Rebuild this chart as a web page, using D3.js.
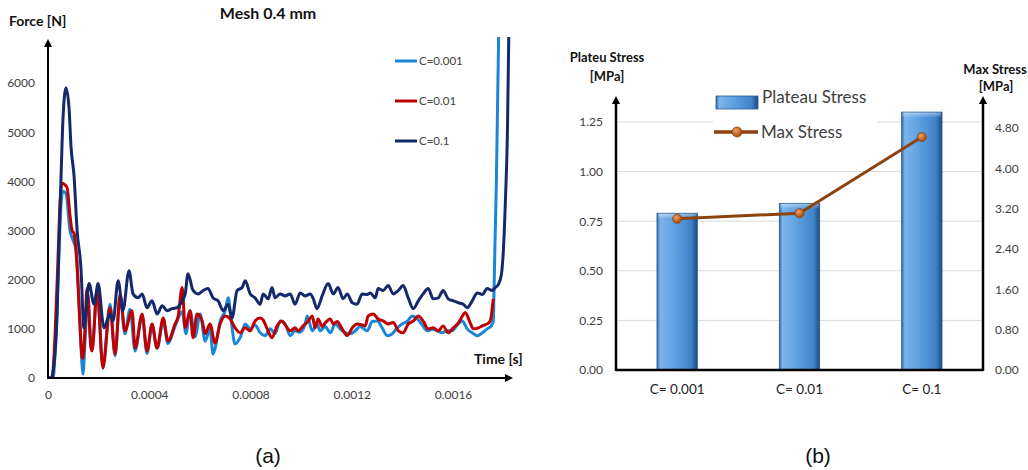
<!DOCTYPE html>
<html>
<head>
<meta charset="utf-8">
<script src="https://cdn.jsdelivr.net/npm/d3@7"></script>
<style>
  body { margin: 0; background: #fff; }
  svg text { font-family: Lato, "Open Sans", sans-serif; }
</style>
</head>
<body>
<svg id="chart" width="1028" height="470"></svg>
<script>
// ---- panel (a): force vs time, [time in microseconds, force in N]
const seriesNames = ["C=0.001", "C=0.01", "C=0.1"];
const seriesColors = ["#1a86d6", "#c00000", "#13296b"];

const forceC0001 = [
  [0,0],[20,0],[32,1000],[43,2500],[51,3500],[59,3800],[71,3750],[87,3000],[99,2800],[111,2600],
  [123,1500],[134,300],[138,80],[146,700],[158,1700],[170,650],[174,600],[194,1750],[217,250],[245,1500],
  [265,450],[285,1650],[304,900],[324,1400],[344,550],[372,1250],[391,500],[411,1050],[431,600],[455,1150],
  [474,700],[502,1050],[530,1350],[545,900],[561,1370],[581,840],[601,1300],[621,750],[640,1000],[652,490],
  [660,600],[680,1150],[700,1370],[712,1630],[723,1200],[739,690],[759,820],[779,1100],[799,1000],[818,1080],
  [838,920],[858,860],[878,1000],[897,900],[917,1160],[937,1100],[957,860],[976,960],[996,930],[1016,1100],
  [1024,1260],[1044,960],[1063,1100],[1075,960],[1095,1050],[1115,920],[1135,1100],[1154,1000],[1174,920],[1194,900],
  [1214,960],[1233,1050],[1261,960],[1281,1150],[1301,1160],[1320,1020],[1340,860],[1360,900],[1380,1020],[1399,1100],
  [1419,1150],[1439,1260],[1459,1200],[1478,1080],[1498,960],[1518,990],[1538,960],[1557,920],[1577,960],[1597,960],
  [1617,1080],[1637,1160],[1656,1000],[1676,920],[1696,860],[1716,920],[1735,1000],[1751,1060],[1759,1150],[1763,2000],
  [1767,3000],[1771,3900],[1775,5200],[1781,7200]
];

const forceC001 = [
  [0,0],[16,0],[28,900],[40,2500],[47,3500],[55,3960],[75,3880],[87,3300],[95,3000],[103,2940],
  [115,2250],[126,1100],[134,450],[138,400],[146,1000],[154,1820],[170,610],[174,550],[194,1800],[217,200],
  [245,1430],[265,490],[285,1710],[304,960],[332,1370],[344,610],[372,1300],[391,550],[411,1100],[431,610],
  [455,1220],[474,750],[502,1100],[514,1250],[530,1840],[542,1020],[561,1370],[573,820],[589,1300],[609,1160],
  [621,900],[640,1100],[660,710],[680,1100],[700,1260],[720,1200],[739,1020],[759,920],[779,1020],[799,960],
  [818,1160],[838,1220],[850,1180],[866,1000],[885,820],[905,1060],[925,1160],[937,1080],[957,960],[976,1020],
  [988,960],[1008,1060],[1028,1160],[1044,1260],[1055,1020],[1067,1200],[1083,1050],[1095,1120],[1115,1200],[1127,1100],
  [1142,1150],[1162,1000],[1182,860],[1202,1020],[1221,1100],[1241,1080],[1253,1060],[1265,1260],[1285,1300],[1304,1200],
  [1324,1160],[1344,1100],[1364,1130],[1384,960],[1403,920],[1423,1100],[1443,1160],[1463,1260],[1482,1160],[1502,1000],
  [1522,1020],[1542,960],[1561,1060],[1581,920],[1601,1020],[1621,1120],[1637,1260],[1648,1330],[1668,1120],[1680,1000],
  [1700,1020],[1716,1060],[1735,1100],[1747,1160],[1759,1610]
];

const forceC01 = [
  [0,0],[12,0],[24,290],[36,1300],[43,2650],[51,4000],[59,5250],[71,5900],[83,5500],[91,4700],
  [103,4100],[115,3000],[130,2250],[142,1020],[162,1920],[182,1500],[198,1920],[221,1020],[245,1300],[257,1160],
  [277,1980],[296,1370],[320,2180],[336,1710],[356,1630],[372,1710],[391,1430],[411,1570],[431,1300],[451,1470],
  [470,1370],[490,1410],[510,1430],[530,1570],[542,1710],[553,2120],[573,1780],[593,1710],[613,1780],[632,1820],
  [652,1630],[672,1570],[692,1370],[712,1500],[727,1220],[747,1780],[767,1840],[779,1980],[799,1710],[818,1630],
  [838,1500],[850,1710],[870,1610],[885,1840],[897,1630],[917,1710],[937,1670],[957,1710],[976,1500],[996,1730],
  [1016,1670],[1036,1710],[1048,1610],[1063,1410],[1083,1670],[1107,1920],[1127,1710],[1146,1840],[1166,1610],[1182,1710],
  [1202,1530],[1221,1500],[1241,1710],[1261,1700],[1273,1730],[1293,1630],[1304,1820],[1324,1780],[1344,1880],[1364,1710],
  [1384,1780],[1403,1880],[1423,1630],[1443,1410],[1463,1570],[1482,1710],[1502,1820],[1522,1610],[1542,1630],[1561,1780],
  [1581,1610],[1601,1570],[1621,1530],[1641,1500],[1656,1430],[1676,1570],[1696,1730],[1716,1700],[1735,1820],[1755,1780],
  [1767,1840],[1779,1900],[1791,2100],[1799,2600],[1807,3600],[1815,5000],[1821,7200]
];

const forceTicks = [0, 1000, 2000, 3000, 4000, 5000, 6000];
const timeTicks = [0, 0.0004, 0.0008, 0.0012, 0.0016];

// ---- panel (b): plateau stress bars + max stress line
const categories = ["C= 0.001", "C= 0.01", "C= 0.1"];
const plateauStress = [0.79, 0.84, 1.30];
const maxStress = [3.00, 3.11, 4.62];
const plateauTicks = [0, 0.25, 0.5, 0.75, 1.0, 1.25];
const maxTicks = [0, 0.8, 1.6, 2.4, 3.2, 4.0, 4.8];

const svg = d3.select("#chart");
const textColor = "#404040";

const defs = svg.append("defs");

function arrowHead(g, x, y, dir) {
  // small filled triangle at axis end
  const s = 4, l = 8;
  let p;
  if (dir === "up") p = [[x, y], [x - s, y + l], [x + s, y + l]];
  else p = [[x, y], [x - l, y - s], [x - l, y + s]];
  g.append("path").attr("d", "M" + p.join("L") + "Z").attr("fill", "#000");
}

// ================= panel (a) =================
const a = svg.append("g");
const x = d3.scaleLinear().domain([0, 0.0016]).range([48, 453]);
const y = d3.scaleLinear().domain([0, 6000]).range([378, 83]);

defs.append("clipPath").attr("id", "clipA")
  .append("rect").attr("x", 48).attr("y", 37).attr("width", 465).attr("height", 342);

const line = d3.line()
  .x(d => x(d[0] * 1e-6))
  .y(d => y(d[1]))
  .curve(d3.curveMonotoneX);

const allForce = [forceC0001, forceC001, forceC01];
const curves = a.append("g").attr("clip-path", "url(#clipA)");
allForce.forEach((s, i) => {
  curves.append("path")
    .datum(s)
    .attr("fill", "none")
    .attr("stroke", seriesColors[i])
    .attr("stroke-width", 3)
    .attr("stroke-linejoin", "round")
    .attr("d", line);
});

// axes
const yAxisA = a.append("g").attr("transform", `translate(${x(0)},0)`)
  .call(d3.axisLeft(y).tickValues(forceTicks).tickSize(0).tickPadding(13).tickFormat(d3.format("d")));
yAxisA.select(".domain").remove();
yAxisA.selectAll("text").attr("fill", textColor).style("font-size", "12px");

const xAxisA = a.append("g").attr("transform", `translate(0,${y(0)})`)
  .call(d3.axisBottom(x).tickValues(timeTicks).tickSize(0).tickPadding(12).tickFormat(d => d === 0 ? "0" : d3.format(".4f")(d)));
xAxisA.select(".domain").remove();
xAxisA.selectAll("text").attr("fill", textColor).style("font-size", "12px");

a.append("line").attr("x1", x(0)).attr("x2", x(0)).attr("y1", y(0) + 1).attr("y2", 46)
  .attr("stroke", "#000").attr("stroke-width", 2);
a.append("line").attr("x1", x(0) - 1).attr("x2", 506).attr("y1", y(0)).attr("y2", y(0))
  .attr("stroke", "#000").attr("stroke-width", 2);
arrowHead(a, x(0), 39, "up");
arrowHead(a, 513, y(0), "right");

a.append("text").attr("x", 268).attr("y", 19).attr("text-anchor", "middle")
  .style("font-size", "16px").style("font-weight", "bold").attr("fill", "#111").text("Mesh 0.4 mm");
a.append("text").attr("x", 9).attr("y", 26)
  .style("font-size", "14px").style("font-weight", "bold").attr("fill", "#111").text("Force [N]");
a.append("text").attr("x", 474).attr("y", 364)
  .style("font-size", "14px").style("font-weight", "bold").attr("fill", "#111").text("Time [s]");

// legend
seriesNames.forEach((n, i) => {
  const ly = 61 + i * 40;
  a.append("line").attr("x1", 395).attr("x2", 417).attr("y1", ly).attr("y2", ly)
    .attr("stroke", seriesColors[i]).attr("stroke-width", 3);
  a.append("text").attr("x", 419).attr("y", ly + 4).style("font-size", "11.5px")
    .attr("fill", textColor).text(n);
});

// ================= panel (b) =================
const b = svg.append("g");
const xb = d3.scaleBand().domain(categories).range([616, 983]).paddingInner(0.67).paddingOuter(0.335);
const yl = d3.scaleLinear().domain([0, 1.25]).range([370, 122]);
const yr = d3.scaleLinear().domain([0, 4.8]).range([370, 128]);

// gridlines
b.append("g").selectAll("line").data(plateauTicks.slice(1)).join("line")
  .attr("x1", 616).attr("x2", 983)
  .attr("y1", d => yl(d)).attr("y2", d => yl(d))
  .attr("stroke", "#d9d9d9").attr("stroke-width", 1);

// bar gradient
const barGrad = defs.append("linearGradient").attr("id", "barGrad")
  .attr("x1", "0%").attr("x2", "100%").attr("y1", "0%").attr("y2", "0%");
[["0%", "#2f6aa8"], ["8%", "#7db4ea"], ["45%", "#5c9fe0"], ["85%", "#3f82c8"], ["100%", "#1d4b80"]]
  .forEach(s => barGrad.append("stop").attr("offset", s[0]).attr("stop-color", s[1]));
const topGrad = defs.append("linearGradient").attr("id", "topGrad")
  .attr("x1", "0%").attr("x2", "0%").attr("y1", "0%").attr("y2", "100%");
[["0%", "#ffffff", 0.45], ["100%", "#ffffff", 0]]
  .forEach(s => topGrad.append("stop").attr("offset", s[0]).attr("stop-color", s[1]).attr("stop-opacity", s[2]));
const dotGrad = defs.append("radialGradient").attr("id", "dotGrad")
  .attr("cx", "40%").attr("cy", "35%").attr("r", "65%");
[["0%", "#f3a15c"], ["100%", "#a4480c"]]
  .forEach(s => dotGrad.append("stop").attr("offset", s[0]).attr("stop-color", s[1]));

const bars = b.append("g");
bars.selectAll("rect.bar").data(plateauStress).join("rect")
  .attr("class", "bar")
  .attr("x", (d, i) => xb(categories[i]))
  .attr("y", d => yl(d))
  .attr("width", xb.bandwidth())
  .attr("height", d => yl(0) - yl(d))
  .attr("fill", "url(#barGrad)")
  .attr("stroke", "#2a5a90").attr("stroke-width", 0.8);
bars.selectAll("rect.top").data(plateauStress).join("rect")
  .attr("class", "top")
  .attr("x", (d, i) => xb(categories[i]) + 1)
  .attr("y", d => yl(d) + 0.5)
  .attr("width", xb.bandwidth() - 2)
  .attr("height", 5)
  .attr("fill", "url(#topGrad)");

// max stress line
const cx = c => xb(c) + xb.bandwidth() / 2;
b.append("path")
  .datum(maxStress)
  .attr("fill", "none").attr("stroke", "#8e430f").attr("stroke-width", 3)
  .attr("d", d3.line().x((d, i) => cx(categories[i])).y(d => yr(d)));
b.selectAll("circle.pt").data(maxStress).join("circle")
  .attr("class", "pt")
  .attr("cx", (d, i) => cx(categories[i])).attr("cy", d => yr(d)).attr("r", 4.5)
  .attr("fill", "url(#dotGrad)").attr("stroke", "#8e430f").attr("stroke-width", 0.8);

// axes
const ylAxis = b.append("g").attr("transform", "translate(616,0)")
  .call(d3.axisLeft(yl).tickValues(plateauTicks).tickSize(0).tickPadding(13).tickFormat(d3.format(".2f")));
ylAxis.select(".domain").remove();
ylAxis.selectAll("text").attr("fill", textColor).style("font-size", "12px");

const yrAxis = b.append("g").attr("transform", "translate(983,0)")
  .call(d3.axisRight(yr).tickValues(maxTicks).tickSize(0).tickPadding(12).tickFormat(d3.format(".2f")));
yrAxis.select(".domain").remove();
yrAxis.selectAll("text").attr("fill", textColor).style("font-size", "12px");

const xbAxis = b.append("g").attr("transform", "translate(0,370)")
  .call(d3.axisBottom(xb).tickSize(0).tickPadding(14));
xbAxis.select(".domain").remove();
xbAxis.selectAll("text").attr("fill", "#222").style("font-size", "13.5px");

b.append("line").attr("x1", 616).attr("x2", 983).attr("y1", 370).attr("y2", 370)
  .attr("stroke", "#000").attr("stroke-width", 2.5);
b.append("line").attr("x1", 616).attr("x2", 616).attr("y1", 371).attr("y2", 104)
  .attr("stroke", "#000").attr("stroke-width", 2.5);
b.append("line").attr("x1", 983).attr("x2", 983).attr("y1", 371).attr("y2", 104)
  .attr("stroke", "#000").attr("stroke-width", 2.5);
arrowHead(b, 616, 96, "up");
arrowHead(b, 983, 96, "up");

b.append("text").attr("x", 607).attr("y", 62).attr("text-anchor", "middle")
  .style("font-size", "13px").style("font-weight", "bold").attr("fill", "#111").text("Plateu Stress");
b.append("text").attr("x", 607).attr("y", 81).attr("text-anchor", "middle")
  .style("font-size", "13px").style("font-weight", "bold").attr("fill", "#111").text("[MPa]");
b.append("text").attr("x", 995).attr("y", 74).attr("text-anchor", "middle")
  .style("font-size", "13px").style("font-weight", "bold").attr("fill", "#111").text("Max Stress");
b.append("text").attr("x", 996).attr("y", 91).attr("text-anchor", "middle")
  .style("font-size", "13px").style("font-weight", "bold").attr("fill", "#111").text("[MPa]");

// legend
const lg = b.append("g");
lg.append("rect").attr("x", 713).attr("y", 88).attr("width", 164).attr("height", 54).attr("fill", "#fff");
lg.append("rect").attr("x", 716).attr("y", 96).attr("width", 42).attr("height", 13)
  .attr("fill", "url(#barGrad)").attr("stroke", "#2a5a90").attr("stroke-width", 0.8);
lg.append("text").attr("x", 762).attr("y", 103).style("font-size", "17px")
  .attr("fill", textColor).text("Plateau Stress");
lg.append("line").attr("x1", 714).attr("x2", 758).attr("y1", 132).attr("y2", 132)
  .attr("stroke", "#8e430f").attr("stroke-width", 3.5);
lg.append("circle").attr("cx", 737).attr("cy", 132).attr("r", 5)
  .attr("fill", "url(#dotGrad)").attr("stroke", "#8e430f").attr("stroke-width", 0.8);
lg.append("text").attr("x", 761).attr("y", 138).style("font-size", "17px")
  .attr("fill", textColor).text("Max Stress");

// captions
svg.append("text").attr("x", 268).attr("y", 463).attr("text-anchor", "middle")
  .style("font-family", "'Liberation Sans', Arial, sans-serif").style("font-size", "21px").attr("fill", "#111").text("(a)");
svg.append("text").attr("x", 818).attr("y", 463).attr("text-anchor", "middle")
  .style("font-family", "'Liberation Sans', Arial, sans-serif").style("font-size", "21px").attr("fill", "#111").text("(b)");
</script>
</body>
</html>
